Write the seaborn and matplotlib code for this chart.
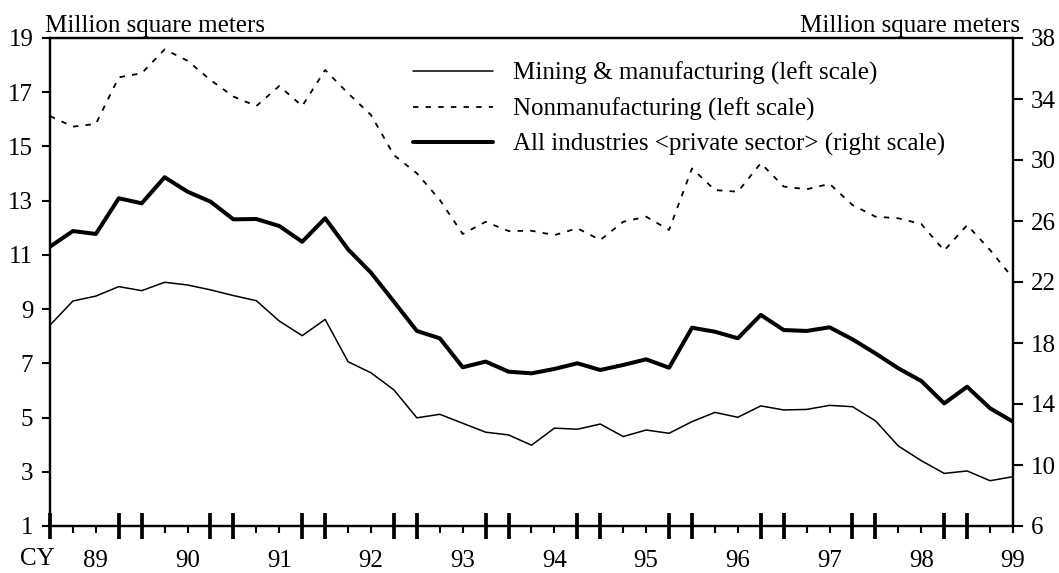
import numpy as np
import pandas as pd
import matplotlib
matplotlib.use('Agg')
import matplotlib.pyplot as plt
import seaborn as sns
from matplotlib.lines import Line2D

# quarterly data, first point just before CY89
mining = [8.41, 9.30, 9.48, 9.83, 9.68, 9.99, 9.89, 9.71, 9.50, 9.31, 8.56, 8.02, 8.62, 7.06,
          6.65, 6.02, 4.99, 5.12, 4.79, 4.46, 4.36, 3.98, 4.61, 4.57, 4.76, 4.30, 4.54, 4.42, 4.85,
          5.19, 5.01, 5.43, 5.28, 5.30, 5.45, 5.40, 4.88, 3.95, 3.41, 2.94, 3.03, 2.67, 2.82]
nonmanu = [16.12, 15.73, 15.83, 17.55, 17.70, 18.58, 18.16, 17.45, 16.84, 16.49, 17.23, 16.49, 17.82, 16.96,
           16.16, 14.68, 14.01, 13.03, 11.77, 12.22, 11.88, 11.89, 11.73, 11.98, 11.55, 12.22, 12.41, 11.92, 14.19,
           13.39, 13.33, 14.38, 13.52, 13.42, 13.62, 12.84, 12.41, 12.35, 12.14, 11.16, 12.10, 11.18, 10.14]
all_ind = [24.32, 25.34, 25.15, 27.49, 27.16, 28.87, 27.92, 27.27, 26.11, 26.13, 25.67, 24.64, 26.18, 24.14,
           22.61, 20.71, 18.79, 18.31, 16.41, 16.78, 16.12, 16.01, 16.30, 16.67, 16.23, 16.56, 16.93, 16.38, 19.00,
           18.74, 18.31, 19.84, 18.85, 18.79, 19.03, 18.24, 17.32, 16.34, 15.51, 14.04, 15.13, 13.72, 12.84]
years = ['89', '90', '91', '92', '93', '94', '95', '96', '97', '98', '99']
labels = ['Mining & manufacturing (left scale)',
          'Nonmanufacturing (left scale)',
          'All industries <private sector> (right scale)']

quarters = np.arange(len(mining))
df = pd.DataFrame({'q': quarters, 'mining': mining, 'nonmanu': nonmanu, 'all': all_ind})

sns.set_style('ticks', {'axes.edgecolor': 'black', 'xtick.color': 'black', 'ytick.color': 'black',
                        'text.color': 'black'})
plt.rcParams['font.family'] = ['Liberation Serif', 'DejaVu Serif']
plt.rcParams['font.size'] = 18

fig = plt.figure(figsize=(10.59, 5.73), dpi=100)
ax = fig.add_axes([50 / 1059, 47 / 573, 963 / 1059, 488 / 573])
ax2 = ax.twinx()

dash = (0, (3, 4))
sns.lineplot(data=df, x='q', y='mining', ax=ax, color='black', lw=1.1)
sns.lineplot(data=df, x='q', y='nonmanu', ax=ax, color='black', lw=1.3, linestyle=dash)
sns.lineplot(data=df, x='q', y='all', ax=ax2, color='black', lw=2.9)

ax.set_xlim(0, len(mining) - 1)
ax.set_ylim(1, 19)
ax2.set_ylim(6, 38)
ax.set_yticks(range(1, 20, 2))
ax2.set_yticks(range(6, 39, 4))
ax.set(xlabel='', ylabel='')
ax2.set_ylabel('')

# x ticks: every quarter, year labels at mid-year, thick marks
xlabels = [''] * len(quarters)
for i, y in enumerate(years):
    xlabels[2 + 4 * i] = y
ax.set_xticks(quarters)
ax.set_xticklabels(xlabels)
thick = [0] + [p for k in range(10) for p in (3 + 4 * k, 4 + 4 * k)]
ax.xaxis.remove_overlapping_locs = False
ax.set_xticks(thick, minor=True)
ax.tick_params(axis='x', which='major', direction='out', length=5, width=1.5, pad=12, labelsize=18)
ax.tick_params(axis='x', which='minor', direction='inout', length=19, width=2.7)
ax.tick_params(axis='y', direction='out', length=6, width=1.5, pad=6, labelsize=18)
ax2.tick_params(axis='y', direction='out', length=7, width=1.5, pad=6, labelsize=18)

for a in (ax, ax2):
    for s in a.spines.values():
        s.set_visible(True)
        s.set_linewidth(1.6)

ax.text(-0.005, 1.012, 'Million square meters', transform=ax.transAxes, ha='left', va='baseline')
ax.text(1.0073, 1.012, 'Million square meters', transform=ax.transAxes, ha='right', va='baseline')
ax.text(-0.013, -0.080, 'CY', transform=ax.transAxes, ha='center', va='baseline')

handles = [Line2D([], [], color='black', lw=1.1),
           Line2D([], [], color='black', lw=1.3, linestyle=dash),
           Line2D([], [], color='black', lw=2.9)]
ax2.legend(handles, labels, loc='upper left', bbox_to_anchor=(0.377, 0.951), frameon=False,
           fontsize=18, handlelength=3.2, handletextpad=0.8, labelspacing=0.48,
           borderpad=0, borderaxespad=0)

fig.savefig('out.png', dpi=100)
